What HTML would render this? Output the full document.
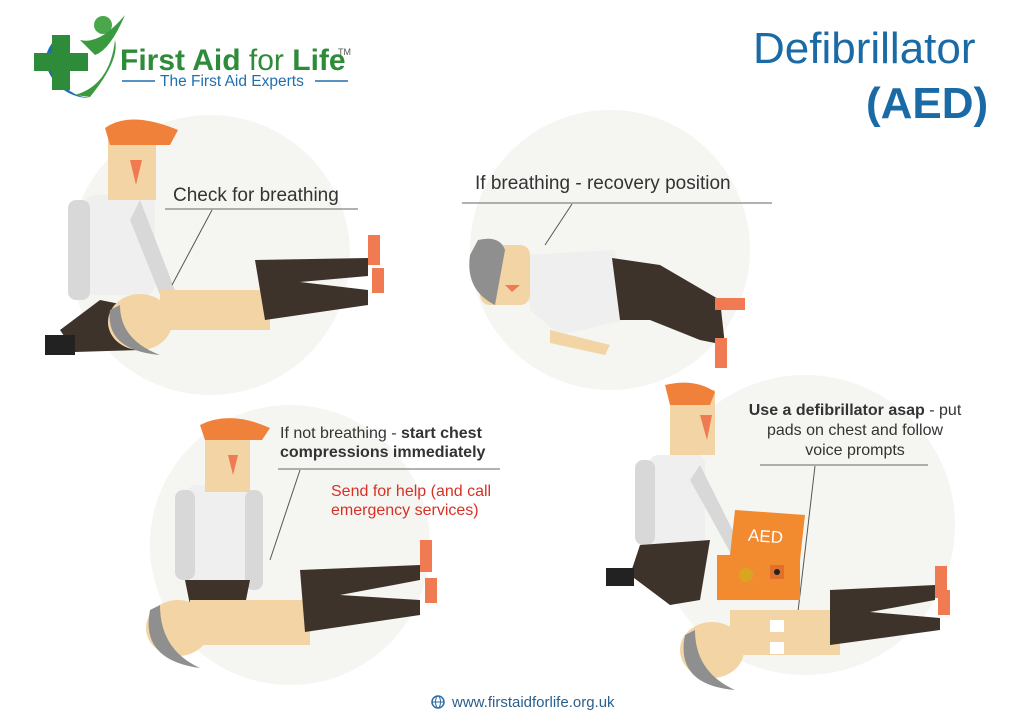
<!DOCTYPE html>
<html><head><meta charset="utf-8"><style>
html,body{margin:0;padding:0;background:#fff;}
svg{display:block;font-family:"Liberation Sans",sans-serif;}
</style></head><body>
<svg width="1024" height="724" viewBox="0 0 1024 724" xmlns="http://www.w3.org/2000/svg">
<rect width="1024" height="724" fill="#fff"/>
<!-- background circles -->
<circle cx="210" cy="255" r="140" fill="#f5f5f2"/>
<circle cx="610" cy="250" r="140" fill="#f5f5f2"/>
<circle cx="290" cy="545" r="140" fill="#f5f5f2"/>
<circle cx="805" cy="525" r="150" fill="#f5f5f2"/>

<!-- Logo -->
<path d="M60 35 A40 40 0 0 0 90 98 A45 45 0 0 1 45 60 A40 40 0 0 1 60 35Z" fill="#1f6fb0"/>
<rect x="52" y="35" width="18" height="55" fill="#2e8b3a"/>
<rect x="34" y="53" width="54" height="18" fill="#2e8b3a"/>
<path d="M75 95 Q110 85 115 40 Q120 60 90 97Z" fill="#3a9a3f"/>
<circle cx="103" cy="25" r="9" fill="#4aa84a"/>
<path d="M80 40 Q100 45 125 15 Q110 50 95 55Z" fill="#3a9a3f"/>
<text x="120" y="70" font-size="30" font-weight="bold" fill="#2e8b3a">First Aid <tspan font-weight="normal">for</tspan> Life</text>
<text x="338" y="55" font-size="9" fill="#555">TM</text>
<line x1="122" y1="81" x2="155" y2="81" stroke="#1f6fb0" stroke-width="1.5"/>
<line x1="315" y1="81" x2="348" y2="81" stroke="#1f6fb0" stroke-width="1.5"/>
<text x="160" y="86" font-size="15.5" fill="#1f6fb0">The First Aid Experts</text>

<!-- Title -->
<text x="753" y="63" font-size="44" fill="#1a6aa5">Defibrillator</text>
<text x="866" y="118" font-size="44" font-weight="bold" fill="#1a6aa5">(AED)</text>

<!-- Scene 1 -->
<rect x="85" y="195" width="70" height="100" rx="10" fill="#efefef"/>
<rect x="68" y="200" width="22" height="100" rx="8" fill="#d8d8d8"/>
<path d="M140 200 L175 290 L160 295 L130 220Z" fill="#d8d8d8"/>
<rect x="108" y="135" width="48" height="65" fill="#f2d4a5"/>
<path d="M105 128 Q130 110 178 130 L170 145 L110 145Z" fill="#f0813a"/>
<path d="M130 160 L142 160 L136 185Z" fill="#f07a52"/>
<path d="M60 330 L100 300 L150 310 L140 350 L75 352 Z" fill="#3d332b"/>
<rect x="45" y="335" width="30" height="20" fill="#222"/>
<rect x="160" y="290" width="110" height="40" fill="#f2d4a5"/>
<path d="M255 260 L368 258 L368 276 L300 282 L368 290 L368 305 L265 320Z" fill="#3d332b"/>
<rect x="368" y="235" width="12" height="30" fill="#f07a52"/>
<rect x="372" y="268" width="12" height="25" fill="#f07a52"/>
<ellipse cx="140" cy="322" rx="32" ry="28" fill="#f2d4a5"/>
<path d="M110 310 Q105 350 160 355 Q120 340 120 305Z" fill="#8f8f8f"/>
<text x="173" y="201" font-size="19" fill="#333">Check for breathing</text>
<line x1="165" y1="209" x2="358" y2="209" stroke="#666" stroke-width="1"/>
<line x1="212" y1="210" x2="172" y2="285" stroke="#555" stroke-width="1"/>

<!-- Scene 2 -->
<text x="475" y="189" font-size="19" fill="#333">If breathing - recovery position</text>
<line x1="462" y1="203" x2="772" y2="203" stroke="#666" stroke-width="1"/>
<line x1="572" y1="204" x2="545" y2="245" stroke="#555" stroke-width="1"/>
<path d="M525 255 L615 250 L625 320 L560 335 L530 310Z" fill="#efefef"/>
<path d="M550 330 L610 345 L605 355 L550 343Z" fill="#f2d4a5"/>
<path d="M612 258 L660 265 L720 300 L725 345 L700 340 L650 320 L620 320Z" fill="#3d332b"/>
<rect x="715" y="298" width="30" height="12" fill="#f07a52"/>
<rect x="715" y="338" width="12" height="30" fill="#f07a52"/>
<rect x="480" y="245" width="50" height="60" rx="10" fill="#f2d4a5"/>
<path d="M478 240 Q500 235 505 250 L495 305 Q465 290 470 255Z" fill="#8f8f8f"/>
<path d="M505 285 L520 285 L512 292Z" fill="#f07a52"/>

<!-- Scene 3 -->
<text x="280" y="438" font-size="16" fill="#333">If not breathing - <tspan font-weight="bold">start chest</tspan></text>
<text x="280" y="457" font-size="16" font-weight="bold" fill="#333">compressions immediately</text>
<line x1="278" y1="469" x2="500" y2="469" stroke="#666" stroke-width="1"/>
<line x1="300" y1="470" x2="270" y2="560" stroke="#555" stroke-width="1"/>
<text x="331" y="496" font-size="16" fill="#d93025">Send for help (and call</text>
<text x="331" y="515" font-size="16" fill="#d93025">emergency services)</text>
<rect x="188" y="485" width="62" height="95" rx="8" fill="#efefef"/>
<rect x="175" y="490" width="20" height="90" rx="8" fill="#d8d8d8"/>
<rect x="245" y="490" width="18" height="100" rx="8" fill="#d8d8d8"/>
<rect x="205" y="430" width="45" height="62" fill="#f2d4a5"/>
<path d="M200 425 Q230 410 270 428 L262 440 L205 440Z" fill="#f0813a"/>
<path d="M228 455 L238 455 L233 475Z" fill="#f07a52"/>
<path d="M185 580 L250 580 L245 605 L190 605Z" fill="#3d332b"/>
<rect x="190" y="600" width="120" height="45" fill="#f2d4a5"/>
<path d="M300 570 L420 565 L420 580 L340 595 L420 600 L420 615 L305 632Z" fill="#3d332b"/>
<rect x="420" y="540" width="12" height="32" fill="#f07a52"/>
<rect x="425" y="578" width="12" height="25" fill="#f07a52"/>
<ellipse cx="178" cy="628" rx="32" ry="28" fill="#f2d4a5"/>
<path d="M150 610 Q140 660 200 668 Q160 650 160 605Z" fill="#8f8f8f"/>

<!-- Scene 4 -->
<text x="855" y="415" font-size="16" text-anchor="middle" fill="#333"><tspan font-weight="bold">Use a defibrillator asap</tspan> - put</text>
<text x="855" y="435" font-size="16" text-anchor="middle" fill="#333">pads on chest and follow</text>
<text x="855" y="455" font-size="16" text-anchor="middle" fill="#333">voice prompts</text>
<line x1="760" y1="465" x2="928" y2="465" stroke="#666" stroke-width="1"/>
<line x1="815" y1="466" x2="797" y2="620" stroke="#555" stroke-width="1"/>
<rect x="650" y="455" width="55" height="95" rx="8" fill="#efefef"/>
<rect x="635" y="460" width="20" height="85" rx="8" fill="#d8d8d8"/>
<path d="M700 465 L740 545 L730 552 L690 480Z" fill="#d8d8d8"/>
<rect x="670" y="390" width="45" height="65" fill="#f2d4a5"/>
<path d="M665 385 Q695 378 715 392 L710 405 L670 405Z" fill="#f0813a"/>
<path d="M700 415 L712 415 L707 440Z" fill="#f07a52"/>
<path d="M640 545 L710 540 L700 600 L670 605 L630 575Z" fill="#3d332b"/>
<rect x="606" y="568" width="28" height="18" fill="#222"/>
<path d="M735 510 L805 515 L800 560 L730 555Z" fill="#f28a30"/>
<rect x="717" y="555" width="83" height="45" fill="#f28a30"/>
<text x="748" y="542" font-size="17" fill="#fff" transform="rotate(4 765 537)">AED</text>
<circle cx="746" cy="575" r="7" fill="#d9a520"/>
<rect x="770" y="565" width="14" height="14" fill="#e0702a"/>
<circle cx="777" cy="572" r="3" fill="#222"/>
<rect x="730" y="610" width="110" height="45" fill="#f2d4a5"/>
<rect x="770" y="620" width="14" height="12" fill="#fff"/>
<rect x="770" y="642" width="14" height="12" fill="#fff"/>
<path d="M830 590 L935 585 L935 600 L870 612 L940 618 L940 630 L830 645Z" fill="#3d332b"/>
<rect x="935" y="566" width="12" height="32" fill="#f07a52"/>
<rect x="938" y="590" width="12" height="25" fill="#f07a52"/>
<ellipse cx="712" cy="650" rx="32" ry="28" fill="#f2d4a5"/>
<path d="M685 635 Q675 685 735 690 Q695 672 695 630Z" fill="#8f8f8f"/>

<!-- footer -->
<circle cx="438" cy="702" r="6" fill="none" stroke="#2b6ca3" stroke-width="1.5"/>
<line x1="432" y1="702" x2="444" y2="702" stroke="#2b6ca3"/>
<ellipse cx="438" cy="702" rx="2.5" ry="6" fill="none" stroke="#2b6ca3"/>
<text x="452" y="707" font-size="15" fill="#2b5f8c">www.firstaidforlife.org.uk</text>
</svg>
</body></html>
